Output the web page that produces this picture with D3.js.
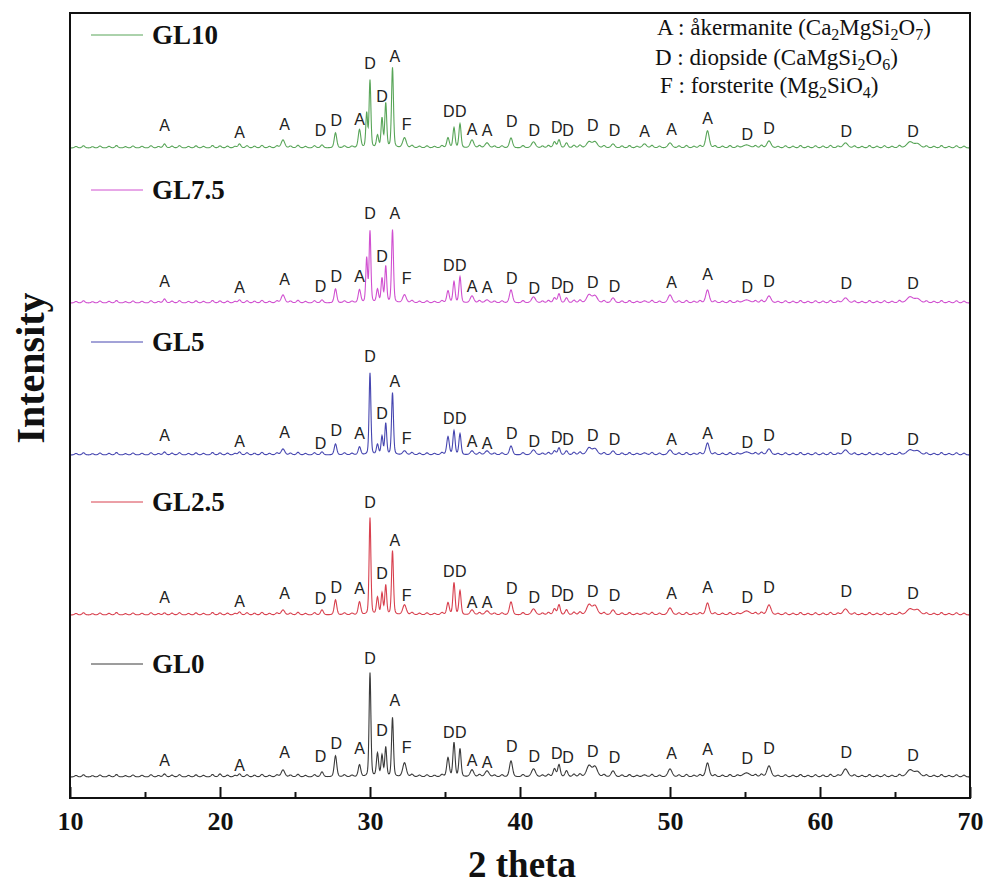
<!DOCTYPE html>
<html><head><meta charset="utf-8">
<script src="https://cdn.jsdelivr.net/npm/d3@7"></script>
<style>body{margin:0;background:#fff} svg{display:block}</style>
</head><body><svg id="c" width="988" height="887"></svg>
<script>
// ---------------- DATA ----------------
const seriesNames = ["GL0", "GL2.5", "GL5", "GL7.5", "GL10"];
const seriesColors = ["#3a3a3a", "#d8404e", "#4646b0", "#d050d0", "#58a558"];
const seriesOffsets = [21, 183, 343, 495, 650];   // stacking offset (a.u.)

const xTicks = [10, 20, 30, 40, 50, 60, 70];
const xMinorTicks = [15, 25, 35, 45, 55, 65];

// reflection positions (2θ) and their widths (FWHM, °)
const peakPos   = [16.3, 20.0, 21.3, 24.2, 26.8, 27.7, 29.3, 29.78, 30.0, 30.5, 30.8, 31.05, 31.5, 32.3, 35.2, 35.6, 36.0, 36.8, 37.8, 39.4, 40.9, 42.3, 42.6, 43.1, 44.6, 45.0, 46.2, 48.3, 50.0, 52.5, 55.1, 56.6, 61.7, 66.0, 66.5];
const peakWidth = [0.22, 0.22, 0.22, 0.28, 0.22, 0.2, 0.2, 0.14, 0.14, 0.17, 0.15, 0.15, 0.15, 0.28, 0.2, 0.17, 0.17, 0.28, 0.32, 0.24, 0.32, 0.22, 0.2, 0.22, 0.38, 0.38, 0.28, 0.32, 0.32, 0.27, 0.55, 0.32, 0.38, 0.5, 0.45];
// peak heights per series (a.u.)
const hGL0   = [3, 3, 3, 7, 5, 21, 12, 0, 104, 23, 21, 29, 59, 14, 19, 34, 28, 7, 6, 16, 8, 8, 12, 6, 11, 10, 6, 2, 8, 14, 4, 11, 8, 7, 5];
const hGL2_5 = [2, 2, 3, 5, 5, 15, 13, 0, 97, 17, 21, 29, 64, 10, 12, 32, 24, 5, 4, 13, 6, 6, 10, 5, 10, 9, 5, 2, 7, 12, 4, 10, 6, 6, 5];
const hGL5   = [3, 2, 3, 6, 3, 11, 8, 0, 82, 10, 18, 31, 62, 4, 18, 24, 21, 4, 4, 9, 5, 4, 7, 4, 7, 6, 4, 2, 5, 12, 3, 6, 5, 5, 4];
const hGL7_5 = [4, 2, 3, 8, 3, 14, 13, 44, 71, 13, 24, 36, 73, 8, 12, 21, 26, 7, 3, 13, 6, 5, 9, 5, 8, 7, 5, 2, 8, 13, 3, 7, 5, 6, 4];
const hGL10  = [4, 2, 4, 8, 3, 15, 18, 34, 67, 12, 29, 44, 80, 10, 10, 20, 24, 8, 5, 10, 6, 6, 8, 5, 6, 6, 4, 4, 5, 17, 3, 7, 5, 6, 4];
const seriesHeights = [hGL0, hGL2_5, hGL5, hGL7_5, hGL10];

// small background wiggles (2θ, height)
const minorPos = [10.4, 10.9, 11.5, 12.0, 12.6, 13.1, 13.7, 14.2, 14.8, 15.4, 15.9, 16.8, 17.3, 17.9, 18.4, 18.9, 19.5, 20.5, 21.0, 21.8, 22.3, 22.8, 23.3, 23.8, 24.7, 25.2, 25.7, 26.3, 28.3, 28.8, 32.8, 33.3, 33.8, 34.3, 34.8, 37.3, 38.3, 38.8, 40.2, 41.5, 41.9, 43.6, 44.0, 45.6, 46.8, 47.3, 47.8, 48.8, 49.3, 50.6, 51.1, 51.6, 52.0, 53.0, 53.5, 54.0, 54.5, 55.7, 56.1, 57.2, 57.7, 58.2, 58.7, 59.2, 59.7, 60.2, 60.7, 61.2, 62.3, 62.8, 63.3, 63.8, 64.3, 64.8, 65.3, 67.1, 67.6, 68.1, 68.6, 69.1, 69.6];
const minorH   = [1.5, 2.2, 1.2, 2.0, 1.6, 2.4, 1.3, 2.0, 1.7, 2.2, 1.4, 1.8, 2.3, 1.5, 2.1, 1.6, 2.4, 1.8, 1.5, 2.2, 1.7, 2.5, 1.6, 2.0, 1.8, 2.6, 1.5, 2.2, 2.0, 1.6, 2.4, 1.7, 2.0, 1.5, 2.2, 2.3, 1.8, 2.0, 2.2, 1.8, 2.4, 2.6, 2.8, 2.2, 1.9, 2.3, 1.6, 2.5, 1.8, 2.0, 2.4, 1.6, 2.2, 2.0, 1.7, 2.3, 1.8, 2.2, 2.6, 1.5, 2.1, 1.7, 2.4, 1.6, 2.2, 1.9, 2.5, 1.8, 2.0, 1.5, 2.3, 1.7, 2.2, 1.6, 2.4, 2.0, 1.6, 2.3, 1.5, 2.2, 1.8];

// phase labels
const labelPos = [16.3, 21.3, 24.3, 26.7, 27.75, 29.3, 30.0, 30.8, 31.65, 32.45, 35.25, 36.05, 36.8, 37.8, 39.45, 40.95, 42.45, 43.2, 44.85, 46.3, 48.3, 50.1, 52.5, 55.15, 56.6, 61.75, 66.2];
const labelText = ["A", "A", "A", "D", "D", "A", "D", "D", "A", "F", "D", "D", "A", "A", "D", "D", "D", "D", "D", "D", "A", "A", "A", "D", "D", "D", "D"];
const lGL0   = [17, 12, 25, 21, 34, 29, 119, 47, 77, 30, 45, 45, 17, 15, 31, 21, 24, 20, 26, 20, null, 24, 28, 19, 29, 25, 22];
const lGL2_5 = [18, 14, 22, 17, 28, 27, 113, 42, 75, 20, 44, 44, 13, 13, 27, 18, 24, 20, 24, 20, null, 22, 28, 18, 28, 24, 22];
const lGL5   = [20, 14, 23, 12, 25, 22, 99, 42, 74, 17, 37, 37, 14, 12, 22, 14, 18, 16, 20, 16, null, 16, 22, 13, 20, 16, 16];
const lGL7_5 = [22, 16, 24, 17, 27, 27, 90, 47, 90, 25, 38, 38, 17, 16, 25, 15, 20, 16, 21, 17, null, 21, 29, 16, 22, 20, 20];
const lGL10  = [23, 16, 24, 18, 28, 29, 85, 52, 92, 24, 37, 37, 19, 18, 27, 18, 21, 18, 23, 18, 17, 19, 30, 14, 20, 17, 17];
const seriesLabelHeights = [lGL0, lGL2_5, lGL5, lGL7_5, lGL10];

const legendRise = 104;
const phaseKey = [
  [["A : åkermanite (Ca", 0], ["2", 1], ["MgSi", 0], ["2", 1], ["O", 0], ["7", 1], [")", 0]],
  [["D : diopside (CaMgSi", 0], ["2", 1], ["O", 0], ["6", 1], [")", 0]],
  [["F : forsterite (Mg", 0], ["2", 1], ["SiO", 0], ["4", 1], [")", 0]]
];

// ---------------- CHART ----------------
const svg = d3.select("#c");
const L = 70, R = 970, T = 13, B = 798;
const x = d3.scaleLinear().domain([10, 70]).range([L, R]);
const y = d3.scaleLinear().domain([0, B - T]).range([B, T]);

function profile(t, p, w) {
  const u = (t - p) / (w / 2);
  const g = Math.exp(-Math.LN2 * u * u);
  const l = 1 / (1 + u * u);
  return 0.3 * l + 0.7 * g;
}
const grid = d3.range(10, 70.0001, 0.02);
const line = d3.line().x(d => x(d[0])).y(d => y(d[1]));

seriesNames.forEach((name, si) => {
  const hs = seriesHeights[si];
  const pts = grid.map(t => {
    let v = seriesOffsets[si];
    peakPos.forEach((p, k) => { if (hs[k]) v += hs[k] * profile(t, p, peakWidth[k]); });
    minorPos.forEach((p, k) => { v += minorH[k] * profile(t, p, 0.22); });
    return [t, v];
  });
  svg.append("path").datum(pts).attr("d", line)
    .attr("fill", "none").attr("stroke", seriesColors[si]).attr("stroke-width", 1.1);

  const lh = seriesLabelHeights[si];
  labelPos.forEach((p, k) => {
    if (lh[k] == null) return;
    svg.append("text").attr("x", x(p)).attr("y", y(seriesOffsets[si] + lh[k]))
      .attr("text-anchor", "middle").attr("dominant-baseline", "central")
      .attr("font-family", "Liberation Sans, Arial, sans-serif").attr("font-size", 16)
      .attr("fill", "#222").text(labelText[k]);
  });

  const ly = y(seriesOffsets[si] + legendRise);
  svg.append("line").attr("x1", 91).attr("x2", 143).attr("y1", ly - 9).attr("y2", ly - 9)
    .attr("stroke", seriesColors[si]).attr("stroke-width", 1);
  svg.append("text").attr("x", 152).attr("y", ly)
    .attr("font-family", "Liberation Serif, Times New Roman, serif").attr("font-weight", "bold")
    .attr("font-size", 27).attr("fill", "#111").text(name);
});

// frame
svg.append("rect").attr("x", L).attr("y", T).attr("width", R - L).attr("height", B - T)
  .attr("fill", "none").attr("stroke", "#111").attr("stroke-width", 2);

// x axis ticks (inward)
const axis = d3.axisBottom(x).tickValues(xTicks).tickSize(-11).tickPadding(14).tickFormat(d3.format("d"));
const gx = svg.append("g").attr("transform", `translate(0,${B})`).call(axis);
gx.select(".domain").remove();
gx.selectAll(".tick line").attr("stroke", "#111").attr("stroke-width", 2);
gx.selectAll(".tick text").attr("font-family", "Liberation Serif, Times New Roman, serif")
  .attr("font-weight", "bold").attr("font-size", 26).attr("fill", "#111");
const minorAxis = d3.axisBottom(x).tickValues(xMinorTicks).tickSize(-6).tickFormat("");
const gm = svg.append("g").attr("transform", `translate(0,${B})`).call(minorAxis);
gm.select(".domain").remove();
gm.selectAll(".tick line").attr("stroke", "#111").attr("stroke-width", 2);

// axis titles
svg.append("text").attr("x", 522).attr("y", 877).attr("text-anchor", "middle")
  .attr("font-family", "Liberation Serif, Times New Roman, serif").attr("font-weight", "bold")
  .attr("font-size", 37).attr("fill", "#111").text("2 theta");
svg.append("text").attr("transform", "translate(44,368) rotate(-90)").attr("text-anchor", "middle")
  .attr("font-family", "Liberation Serif, Times New Roman, serif").attr("font-weight", "bold")
  .attr("font-size", 40).attr("fill", "#111").text("Intensity");

// phase key
const keyX = [657, 655, 660], keyY = [35, 65, 93];
phaseKey.forEach((parts, i) => {
  const t = svg.append("text").attr("x", keyX[i]).attr("y", keyY[i])
    .attr("font-family", "Liberation Serif, Times New Roman, serif").attr("font-size", 23).attr("fill", "#111");
  let sub = 0;
  parts.forEach(([s, isSub]) => {
    const ts = t.append("tspan").text(s);
    if (isSub && !sub) { ts.attr("dy", 5).attr("font-size", 16); sub = 1; }
    else if (!isSub && sub) { ts.attr("dy", -5); sub = 0; }
    else if (isSub) ts.attr("font-size", 16);
  });
});
</script>
</body></html>
